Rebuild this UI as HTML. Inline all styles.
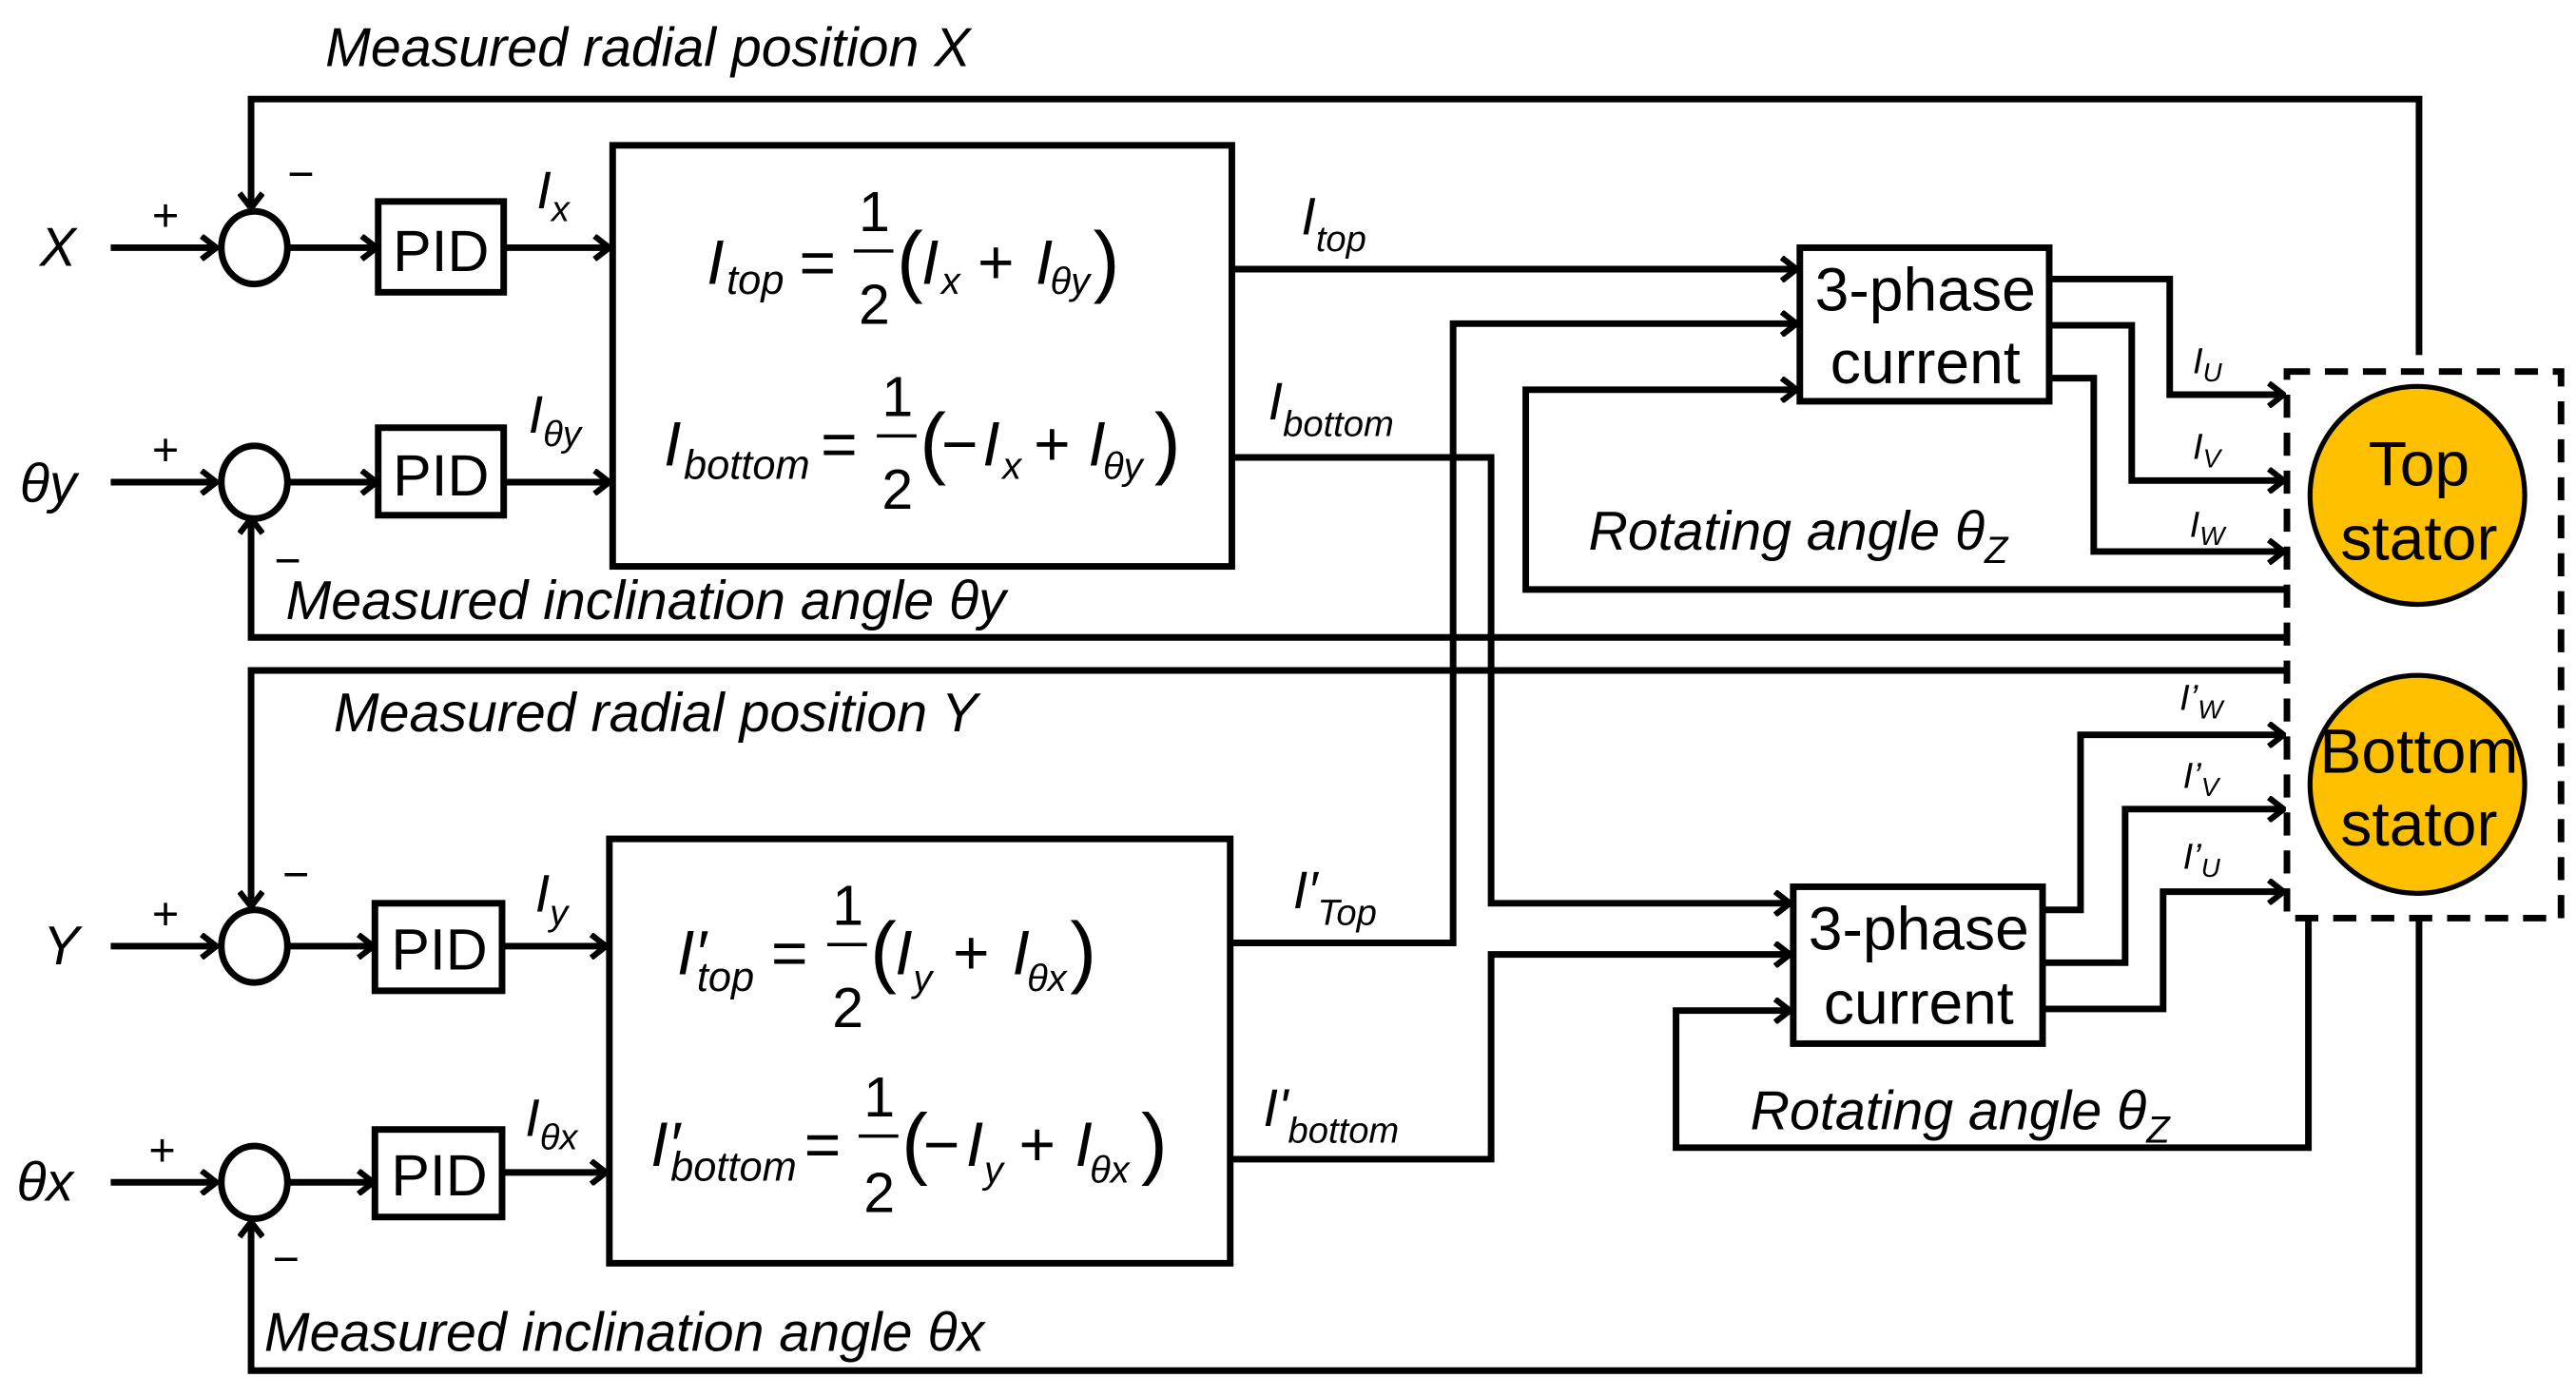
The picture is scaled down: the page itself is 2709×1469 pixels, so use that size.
<!DOCTYPE html>
<html><head><meta charset="utf-8"><style>
html,body{margin:0;padding:0;background:#fff;}
svg{display:block;}
text{font-family:"Liberation Sans",sans-serif;}
.it{font-style:italic;}
.lab{font-size:33px;font-style:italic;}
.ser{font-family:"Liberation Serif",serif;}
</style></head><body>
<svg width="2709" height="1469" viewBox="0 0 1560 846" xmlns="http://www.w3.org/2000/svg">
<defs>
<marker id="a" markerWidth="12" markerHeight="16" refX="10.5" refY="8" orient="auto" markerUnits="userSpaceOnUse" viewBox="0 0 12 16">
<polyline points="1.5,1 10.5,8 1.5,15" fill="none" stroke="#000" stroke-width="3.6"/>
</marker>
</defs>
<g fill="none" stroke="#000" stroke-width="4">
<polyline points="1465,215 1465,60 152,60 152,126" marker-end="url(#a)"/>
<polyline points="1385,386 152,386 152,314" marker-end="url(#a)"/>
<polyline points="1385,406 152,406 152,549" marker-end="url(#a)"/>
<polyline points="1465,556 1465,830 152,830 152,740" marker-end="url(#a)"/>
<line x1="67" y1="150" x2="131" y2="150" marker-end="url(#a)"/>
<line x1="67" y1="292" x2="131" y2="292" marker-end="url(#a)"/>
<line x1="67" y1="573" x2="131" y2="573" marker-end="url(#a)"/>
<line x1="67" y1="716" x2="131" y2="716" marker-end="url(#a)"/>
<ellipse cx="154" cy="150" rx="20" ry="22"/>
<ellipse cx="154" cy="292" rx="20" ry="22"/>
<ellipse cx="154" cy="573" rx="20" ry="22"/>
<ellipse cx="154" cy="716" rx="20" ry="22"/>
<line x1="175" y1="150" x2="228" y2="150" marker-end="url(#a)"/>
<line x1="175" y1="292" x2="228" y2="292" marker-end="url(#a)"/>
<line x1="175" y1="573" x2="226" y2="573" marker-end="url(#a)"/>
<line x1="175" y1="716" x2="226" y2="716" marker-end="url(#a)"/>
<rect x="229" y="122" width="76" height="55"/>
<rect x="229" y="259" width="76" height="53"/>
<rect x="227" y="547" width="77" height="53"/>
<rect x="227" y="684" width="77" height="53"/>
<line x1="305" y1="150" x2="369" y2="150" marker-end="url(#a)"/>
<line x1="305" y1="292" x2="369" y2="292" marker-end="url(#a)"/>
<line x1="304" y1="573" x2="367" y2="573" marker-end="url(#a)"/>
<line x1="304" y1="710" x2="367" y2="710" marker-end="url(#a)"/>
<rect x="371" y="88" width="375" height="255"/>
<rect x="369" y="508" width="376" height="257"/>
<line x1="746" y1="163" x2="1088" y2="163" marker-end="url(#a)"/>
<polyline points="746,277 903,277 903,547 1084,547" marker-end="url(#a)"/>
<polyline points="746,571 880,571 880,196 1088,196" marker-end="url(#a)"/>
<polyline points="745,702 903,702 903,578 1084,578" marker-end="url(#a)"/>
<rect x="1090" y="150" width="151" height="93"/>
<rect x="1086" y="537" width="151" height="95"/>
<polyline points="1241,169 1314,169 1314,239 1383,239" marker-end="url(#a)"/>
<polyline points="1241,197 1291,197 1291,291 1383,291" marker-end="url(#a)"/>
<polyline points="1241,229 1268,229 1268,334 1383,334" marker-end="url(#a)"/>
<polyline points="1385,357 924,357 924,236 1088,236" marker-end="url(#a)"/>
<polyline points="1237,551 1260,551 1260,445 1383,445" marker-end="url(#a)"/>
<polyline points="1237,583 1287,583 1287,490 1383,490" marker-end="url(#a)"/>
<polyline points="1237,611 1310,611 1310,540 1383,540" marker-end="url(#a)"/>
<polyline points="1398,556 1398,695 1015,695 1015,612 1084,612" marker-end="url(#a)"/>
<rect x="1385" y="225" width="166" height="331" stroke-dasharray="14,9"/>
</g>
<ellipse cx="1464" cy="300" rx="65" ry="66" fill="#FFC000" stroke="#000" stroke-width="3"/>
<ellipse cx="1464" cy="475" rx="65" ry="66" fill="#FFC000" stroke="#000" stroke-width="3"/>
<g font-size="38" text-anchor="middle">
<text x="1465" y="294">Top</text><text x="1465" y="339">stator</text>
<text x="1465" y="468">Bottom</text><text x="1465" y="512">stator</text>
</g>
<g font-size="37" text-anchor="middle">
<text x="1166" y="188">3-phase</text><text x="1166" y="232">current</text>
<text x="1162" y="575">3-phase</text><text x="1162" y="620">current</text>
</g>
<g font-size="35">
<text x="267" y="164" text-anchor="middle">PID</text>
<text x="267" y="300" text-anchor="middle">PID</text>
<text x="266" y="587" text-anchor="middle">PID</text>
<text x="266" y="724" text-anchor="middle">PID</text>
</g>
<g class="lab">
<text x="197" y="40">Measured radial position X</text>
<text x="173" y="375">Measured inclination angle θy</text>
<text x="202" y="443">Measured radial position Y</text>
<text x="160" y="818">Measured inclination angle θx</text>
<text x="962" y="333">Rotating angle θ<tspan font-size="23" dy="8">Z</tspan></text>
<text x="1060" y="684">Rotating angle θ<tspan font-size="23" dy="8">Z</tspan></text>
<text x="24" y="161">X</text>
<text x="12" y="304">θy</text>
<text x="26" y="584">Y</text>
<text x="10" y="727">θx</text>
</g>
<g font-size="28">
<text x="92" y="140">+</text><text x="92" y="282">+</text>
<text x="92" y="563">+</text><text x="90" y="706">+</text>
<text x="174" y="115">−</text><text x="166" y="349">−</text>
<text x="171" y="539">−</text><text x="165" y="772">−</text>
</g>
<g class="it" font-size="32">
<text x="325" y="126">I<tspan font-size="22" dy="8">x</tspan></text>
<text x="320" y="262">I<tspan font-size="22" dy="8">θy</tspan></text>
<text x="324" y="552">I<tspan font-size="22" dy="8">y</tspan></text>
<text x="318" y="688">I<tspan font-size="22" dy="8">θx</tspan></text>
<text x="788" y="142">I<tspan font-size="22" dy="10">top</tspan></text>
<text x="768" y="254">I<tspan font-size="22" dy="10">bottom</tspan></text>
<text x="783" y="550">I′<tspan font-size="22" dy="10">Top</tspan></text>
<text x="765" y="682">I'<tspan font-size="22" dy="10">bottom</tspan></text>
</g>
<g class="it" font-size="22">
<text x="1328" y="226">I<tspan font-size="16" dy="5">U</tspan></text>
<text x="1328" y="278">I<tspan font-size="16" dy="5">V</tspan></text>
<text x="1326" y="325">I<tspan font-size="16" dy="5">W</tspan></text>
<text x="1320" y="430">I’<tspan font-size="16" dy="5">W</tspan></text>
<text x="1322" y="477">I’<tspan font-size="16" dy="5">V</tspan></text>
<text x="1322" y="526">I’<tspan font-size="16" dy="5">U</tspan></text>
</g>
<g class="ser" font-size="38">
<text x="428" y="172" class="it">I</text><text x="440" y="178" class="it" font-size="25" font-family="Liberation Sans">top</text>
<text x="484" y="172">=</text>
<text x="520" y="140" font-size="34">1</text><line x1="517" y1="152" x2="541" y2="152" stroke="#000" stroke-width="2"/><text x="520" y="196" font-size="34">2</text>
<text x="543" y="174" font-size="48">(</text>
<text x="558" y="172" class="it">I</text><text x="570" y="178" class="it" font-size="23" font-family="Liberation Sans">x</text>
<text x="592" y="172">+</text>
<text x="627" y="172" class="it">I</text><text x="636" y="178" class="it" font-size="23" font-family="Liberation Sans">θy</text>
<text x="662" y="174" font-size="48">)</text>

<text x="402" y="282" class="it">I</text><text x="414" y="290" class="it" font-size="25" font-family="Liberation Sans">bottom</text>
<text x="497" y="282">=</text>
<text x="534" y="252" font-size="34">1</text><line x1="531" y1="264" x2="555" y2="264" stroke="#000" stroke-width="2"/><text x="534" y="308" font-size="34">2</text>
<text x="557" y="284" font-size="48">(</text>
<text x="570" y="282">−</text>
<text x="595" y="282" class="it">I</text><text x="607" y="290" class="it" font-size="23" font-family="Liberation Sans">x</text>
<text x="626" y="282">+</text>
<text x="659" y="282" class="it">I</text><text x="668" y="290" class="it" font-size="23" font-family="Liberation Sans">θy</text>
<text x="699" y="284" font-size="48">)</text>

<text x="410" y="590" class="it">I′</text><text x="422" y="600" class="it" font-size="25" font-family="Liberation Sans">top</text>
<text x="467" y="590">=</text>
<text x="504" y="560" font-size="34">1</text><line x1="501" y1="572" x2="525" y2="572" stroke="#000" stroke-width="2"/><text x="504" y="622" font-size="34">2</text>
<text x="527" y="592" font-size="48">(</text>
<text x="542" y="590" class="it">I</text><text x="553" y="600" class="it" font-size="23" font-family="Liberation Sans">y</text>
<text x="577" y="590">+</text>
<text x="613" y="590" class="it">I</text><text x="622" y="600" class="it" font-size="23" font-family="Liberation Sans">θx</text>
<text x="648" y="592" font-size="48">)</text>

<text x="394" y="706" class="it">I′</text><text x="406" y="715" class="it" font-size="25" font-family="Liberation Sans">bottom</text>
<text x="487" y="706">=</text>
<text x="523" y="676" font-size="34">1</text><line x1="520" y1="688" x2="544" y2="688" stroke="#000" stroke-width="2"/><text x="523" y="734" font-size="34">2</text>
<text x="546" y="708" font-size="48">(</text>
<text x="559" y="706">−</text>
<text x="585" y="706" class="it">I</text><text x="596" y="716" class="it" font-size="23" font-family="Liberation Sans">y</text>
<text x="617" y="706">+</text>
<text x="651" y="706" class="it">I</text><text x="660" y="716" class="it" font-size="23" font-family="Liberation Sans">θx</text>
<text x="691" y="708" font-size="48">)</text>
</g>
</svg>
</body></html>
